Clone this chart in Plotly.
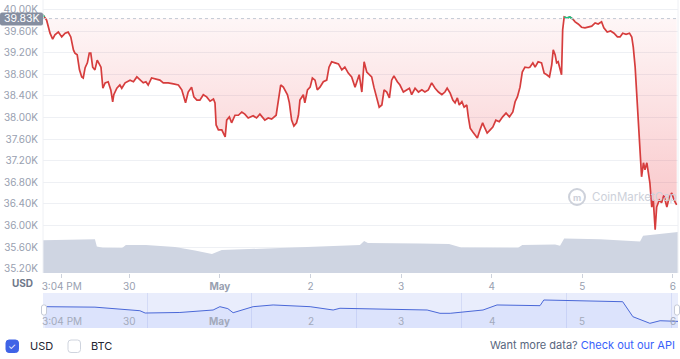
import plotly.graph_objects as go
import pandas as pd

W, H = 680, 359
FONT = "Inter, Noto Sans, sans-serif"

# ---------------- data ----------------
open_price = 39.83  # K USD

# hours since 2022-04-29 00:00 and BTC price (thousand USD)
hours = [1.1, 1.5, 2.1, 3.0, 3.7, 4.3, 5.2, 6.1, 7.0, 7.8, 8.5, 9.2, 9.6, 10.2, 10.8, 11.4,
         11.8, 12.3, 12.9, 13.4, 13.8, 14.3, 14.9, 15.5, 16.1, 16.5, 17.0, 17.6, 18.4, 19.1,
         19.6, 19.9, 20.7, 21.5, 22.0, 22.9, 24.2, 25.1, 26.0, 26.8, 27.7, 28.4, 29.0, 29.9,
         31.3, 32.1, 33.0, 34.3, 35.7, 37.0, 37.9, 38.5, 38.9, 39.6, 40.5, 41.1, 41.9, 42.7,
         43.6, 44.5, 45.4, 46.3, 46.7, 47.0, 47.6, 48.5, 49.4, 49.8, 50.5, 51.1, 52.0, 52.9,
         53.8, 54.6, 55.5, 56.8, 57.7, 58.6, 59.9, 60.8, 61.7, 62.9, 63.5, 64.1, 64.8, 65.9,
         66.4, 67.0, 67.6, 68.3, 68.8, 69.2, 70.1, 70.5, 71.2, 71.9, 72.5, 73.2, 73.8, 74.5,
         75.4, 76.3, 76.9, 77.6, 78.5, 79.4, 80.3, 81.1, 82.0, 82.9, 83.8, 84.4, 84.9, 85.6,
         86.2, 86.9, 87.6, 88.2, 88.8, 89.5, 90.2, 90.9, 91.5, 92.2, 92.9, 93.5, 94.1, 95.0,
         95.7, 96.6, 97.5, 98.2, 98.8, 99.7, 100.6, 101.5, 102.3, 103.2, 104.1, 105.0, 105.9,
         106.8, 107.6, 108.2, 109.0, 109.7, 110.3, 110.9, 111.4, 112.1, 112.7, 113.4, 113.8,
         114.3, 115.0, 115.6, 116.2, 116.9, 117.6, 118.2, 118.8, 119.6, 120.3, 121.1, 122.0,
         122.9, 123.8, 124.7, 125.6, 126.2, 126.8, 127.5, 128.1, 128.8, 129.7, 130.1, 130.9,
         131.5, 132.3, 133.2, 133.9, 134.6, 135.3, 135.9, 136.3, 136.8, 137.2, 137.6, 138.1,
         138.5, 138.8, 139.2, 139.9, 140.7, 141.5, 142.1, 142.9, 143.8, 144.7, 145.6, 146.5,
         147.4, 148.2, 149.1, 149.7, 150.6, 151.5, 152.4, 153.3, 154.0, 154.7, 155.6, 156.5,
         157.1, 157.5, 158.0, 158.4, 158.8, 159.3, 159.7, 160.2, 160.6, 161.1, 161.5, 161.9,
         162.4, 162.8, 163.3, 163.7, 164.4, 165.0, 165.6, 166.4, 167.0, 167.7, 168.3, 169.0]
price = [39.90, 39.86, 39.80, 39.56, 39.45, 39.53, 39.58, 39.49, 39.56, 39.58, 39.49, 39.25, 39.19, 39.16, 38.88, 38.75,
         38.73, 38.92, 39.01, 39.19, 39.19, 38.93, 38.88, 39.06, 38.97, 38.93, 38.54, 38.64, 38.66, 38.51,
         38.29, 38.42, 38.54, 38.60, 38.54, 38.64, 38.69, 38.66, 38.75, 38.69, 38.64, 38.66, 38.60, 38.73,
         38.71, 38.69, 38.64, 38.64, 38.62, 38.60, 38.51, 38.38, 38.27, 38.47, 38.56, 38.38, 38.32, 38.32,
         38.42, 38.38, 38.30, 38.34, 38.27, 37.86, 37.77, 37.77, 37.64, 37.95, 38.01, 37.90, 38.04, 38.04,
         38.10, 38.06, 37.99, 38.03, 37.99, 38.06, 37.95, 37.99, 37.97, 38.04, 38.29, 38.60, 38.56, 38.42,
         38.27, 37.95, 37.84, 37.90, 38.04, 38.32, 38.42, 38.27, 38.51, 38.56, 38.73, 38.69, 38.51, 38.56,
         38.66, 38.69, 38.93, 39.03, 39.01, 38.99, 38.88, 38.93, 38.82, 38.75, 38.56, 38.69, 38.79, 38.47,
         39.03, 38.84, 38.80, 38.75, 38.56, 38.36, 38.19, 38.23, 38.51, 38.47, 38.36, 38.69, 38.77, 38.66,
         38.60, 38.47, 38.51, 38.54, 38.42, 38.54, 38.47, 38.51, 38.47, 38.51, 38.64, 38.54, 38.47,
         38.42, 38.47, 38.54, 38.45, 38.32, 38.27, 38.36, 38.23, 38.29, 38.19, 38.23, 38.01,
         37.80, 37.73, 37.67, 37.62, 37.77, 37.90, 37.80, 37.71, 37.77, 37.82, 37.95, 37.92,
         38.01, 38.08, 38.01, 38.10, 38.29, 38.38, 38.56, 38.84, 38.93, 38.92, 38.93, 39.01,
         38.93, 39.03, 39.01, 38.82, 38.79, 38.75, 38.97, 39.25, 39.16, 39.01, 39.03, 38.88,
         38.79, 39.62, 39.86, 39.84, 39.86, 39.82, 39.77, 39.73, 39.67, 39.66, 39.67, 39.69,
         39.75, 39.73, 39.77, 39.66, 39.58, 39.60, 39.56, 39.49, 39.49, 39.56, 39.54, 39.56,
         39.49, 39.30, 38.93, 38.45, 37.82, 37.16, 36.90, 37.16, 37.03, 37.16, 36.93, 36.79,
         36.34, 36.47, 35.92, 36.34, 36.47, 36.42, 36.56, 36.34, 36.51, 36.60, 36.47, 36.38]

# 24h volume (billion USD)
vol_hours = [1.1, 8.3, 14.9, 15.4, 17.0, 22.1, 23.1, 28.4, 32.1, 36.1, 41.4, 45.9, 48.5, 56.7,
             66.6, 76.1, 85.1, 86.2, 87.2, 101.0, 108.7, 111.9, 127.0, 128.1, 136.8, 138.1,
             139.2, 148.7, 156.4, 159.3, 160.1, 164.6, 169.35]
volume = [24.0, 24.2, 24.8, 19.5, 18.5, 18.3, 20.5, 20.5, 19.8, 19.0, 16.5, 13.9, 16.8, 17.6,
          18.6, 19.8, 20.5, 23.4, 22.0, 21.6, 21.2, 18.6, 18.5, 20.5, 20.8, 20.0,
          25.2, 24.8, 23.6, 23.0, 27.2, 28.5, 30.0]

# navigator series
nav_hours = [1.7, 14.9, 26.8, 28.2, 37.4, 46.2, 48.0, 50.1, 51.5, 56.8, 62.1, 71.9, 78.0, 79.8,
             102.9, 106.3, 109.0, 117.7, 121.4, 132.8, 133.8, 154.7, 157.4, 161.9, 164.6, 168.0, 169.35]
nav_price = [38.73, 38.65, 38.05, 37.66, 37.75, 38.17, 38.73, 38.40, 37.71, 38.73, 39.02, 38.73, 38.17, 38.46,
             38.17, 37.61, 37.61, 38.17, 39.02, 38.90, 39.86, 39.57, 37.04, 35.92, 36.36, 36.19, 36.25]

tick_hours = [6.1, 24, 48, 72, 96, 120, 144, 168]
tick_text = ["3:04 PM", "30", "<b>May</b>", "2", "3", "4", "5", "6"]
price_ticks = [35.2, 35.6, 36.0, 36.4, 36.8, 37.2, 37.6, 38.0, 38.4, 38.8, 39.2, 39.6, 40.0]
price_tick_text = ["35.20K", "35.60K", "36.00K", "36.40K", "36.80K", "37.20K", "37.60K",
                   "38.00K", "38.40K", "38.80K", "39.20K", "39.60K", "40.00K"]

# ---------------- helpers ----------------
base = pd.Timestamp("2022-04-29 00:00")
def T(h):
    return base + pd.Timedelta(hours=h)
def px(x):
    return x / W
def py(y):
    return 1 - y / H
def rrect(x0, y0, x1, y1, r):
    """rounded rectangle path in paper coords from pixel box"""
    rx, ry = r / W, r / H
    a, b, c, d = px(x0), py(y1), px(x1), py(y0)  # left, bottom, right, top
    return (f"M {a+rx},{b} L {c-rx},{b} Q {c},{b} {c},{b+ry} L {c},{d-ry} Q {c},{d} {c-rx},{d} "
            f"L {a+rx},{d} Q {a},{d} {a},{d-ry} L {a},{b+ry} Q {a},{b} {a+rx},{b} Z")

x = [T(h) for h in hours]
xv = [T(h) for h in vol_hours]
xn = [T(h) for h in nav_hours]
xrange = [T(1.14), T(169.35)]

green_price = [p if p >= open_price - 0.01 else None for p in price]

RED = "#d63d3d"
GREEN = "#16c784"
LABEL = "#98a0b0"

fig = go.Figure()

# baseline (open price) for fill
fig.add_trace(go.Scatter(x=x, y=[open_price] * len(x), mode="lines", line=dict(width=0),
                         hoverinfo="skip", showlegend=False, xaxis="x", yaxis="y"))
fig.add_trace(go.Scatter(x=x, y=price, mode="lines", line=dict(color=RED, width=1.7),
                         fill="tonexty",
                         fillgradient=dict(type="vertical",
                                           colorscale=[[0, "rgba(234,57,67,0.30)"],
                                                       [1, "rgba(234,57,67,0.04)"]]),
                         showlegend=False, xaxis="x", yaxis="y"))
fig.add_trace(go.Scatter(x=x, y=green_price, mode="lines", line=dict(color=GREEN, width=1.7),
                         connectgaps=False, showlegend=False, xaxis="x", yaxis="y"))
# volume
fig.add_trace(go.Scatter(x=xv, y=volume, mode="lines", line=dict(width=0, color="#cfd5e2"),
                         fill="tozeroy", fillcolor="#cfd5e2", showlegend=False,
                         xaxis="x", yaxis="y2"))
# navigator
fig.add_trace(go.Scatter(x=xn, y=nav_price, mode="lines", line=dict(color="#4a68d8", width=1),
                         fill="tozeroy", fillcolor="rgba(56,97,251,0.07)", showlegend=False,
                         xaxis="x3", yaxis="y3"))

xdom = [px(43), px(678)]
fig.update_layout(
    width=W, height=H, margin=dict(l=0, r=0, t=0, b=0),
    paper_bgcolor="white", plot_bgcolor="white",
    font=dict(family=FONT, size=10, color=LABEL),
    xaxis=dict(domain=xdom, range=xrange, anchor="y", tickvals=[T(h) for h in tick_hours],
               ticktext=tick_text, ticks="outside", ticklen=4, tickcolor="#cdd2dc",
               showgrid=False, zeroline=False, showline=False, automargin=False,
               tickfont=dict(size=10, color=LABEL)),
    yaxis=dict(domain=[py(273), py(0)], range=[35.119, 40.174], tickvals=price_ticks,
               ticktext=price_tick_text, showgrid=True, gridcolor="#eef0f4", gridwidth=1,
               zeroline=False, automargin=False, ticks="", ticklabelstandoff=4,
               tickfont=dict(size=10, color=LABEL)),
    yaxis2=dict(overlaying="y", range=[0, 200], visible=False),
    xaxis3=dict(domain=xdom, range=xrange, anchor="y3", showticklabels=False,
                tickmode="linear", tick0=T(28.7), dtick=27.8 * 3600 * 1000,
                showgrid=True, gridcolor="#d4dbf6", zeroline=False, automargin=False),
    yaxis3=dict(domain=[py(328), py(293)], range=[35.13, 41.04], visible=False),
)

shapes = [
    # navigator background
    dict(type="rect", xref="x3 domain", yref="y3 domain", x0=0, x1=1, y0=0, y1=1,
         fillcolor="#e9edfc", line=dict(width=0), layer="below"),
    # main plot vertical borders
    dict(type="line", xref="x domain", yref="y domain", x0=0, x1=0, y0=0, y1=1,
         line=dict(color="#eef0f4", width=1)),
    dict(type="line", xref="x domain", yref="y domain", x0=1, x1=1, y0=0, y1=1,
         line=dict(color="#eef0f4", width=1)),
    # open price dotted line
    dict(type="line", xref="x domain", yref="y", x0=0, x1=1, y0=open_price, y1=open_price,
         line=dict(color="#c3c9d4", width=1, dash="dot")),
    # open price box
    dict(type="path", xref="paper", yref="paper", path=rrect(0, 12.5, 43, 25.5, 2),
         fillcolor="#858ea0", line=dict(width=0)),
    # navigator handles
    dict(type="path", xref="paper", yref="paper", path=rrect(41.5, 305, 46.5, 315, 2),
         fillcolor="white", line=dict(color="#c5cad6", width=1)),
    dict(type="path", xref="paper", yref="paper", path=rrect(674.5, 305, 679.5, 315, 2),
         fillcolor="white", line=dict(color="#c5cad6", width=1)),
    # checkboxes
    dict(type="path", xref="paper", yref="paper", path=rrect(6, 340, 18.5, 352.5, 3),
         fillcolor="#3f63e6", line=dict(color="#3f63e6", width=1)),
    dict(type="path", xref="paper", yref="paper", path=rrect(68, 340, 80.5, 352.5, 3),
         fillcolor="white", line=dict(color="#cfd4de", width=1)),
    # watermark logo circle
    dict(type="circle", xref="paper", yref="paper", x0=px(569), x1=px(585), y0=py(205), y1=py(189),
         fillcolor="rgba(0,0,0,0)", line=dict(color="#cdd1da", width=2)),
]
fig.update_layout(shapes=shapes)

def A(xp, yp, text, size, color, xa="center", **kw):
    return dict(x=px(xp), y=py(yp), xref="paper", yref="paper", text=text, showarrow=False,
                xanchor=xa, yanchor="middle", font=dict(size=size, color=color, family=FONT), **kw)

ann = [
    A(21.5, 19, "39.83K", 10.5, "white"),
    A(22, 283, "<b>USD</b>", 10, "#6f7789"),
    A(590, 197, "CoinMarketCap", 11.5, "#cdd1da", xa="left"),
    A(577, 197.5, "<b>m</b>", 9, "#cdd1da"),
    A(12.3, 346.3, "✓", 9, "white"),
    A(28, 346, "USD", 11, "#222531", xa="left"),
    A(89, 346, "BTC", 11, "#222531", xa="left"),
    A(677, 345, "Want more data? <span style='color:#3861fb'>Check out our API</span>",
      11, "#58667e", xa="right"),
]
for h, t in zip(tick_hours, tick_text):
    ann.append(dict(x=T(h), y=py(321), xref="x3", yref="paper", text=t, showarrow=False,
                    xanchor="center", yanchor="middle",
                    font=dict(size=10, color="#a3aabb", family=FONT)))
fig.update_layout(annotations=ann)

fig.write_html("out.html", config={"displayModeBar": False},
               post_script="document.body.style.margin='0';")
